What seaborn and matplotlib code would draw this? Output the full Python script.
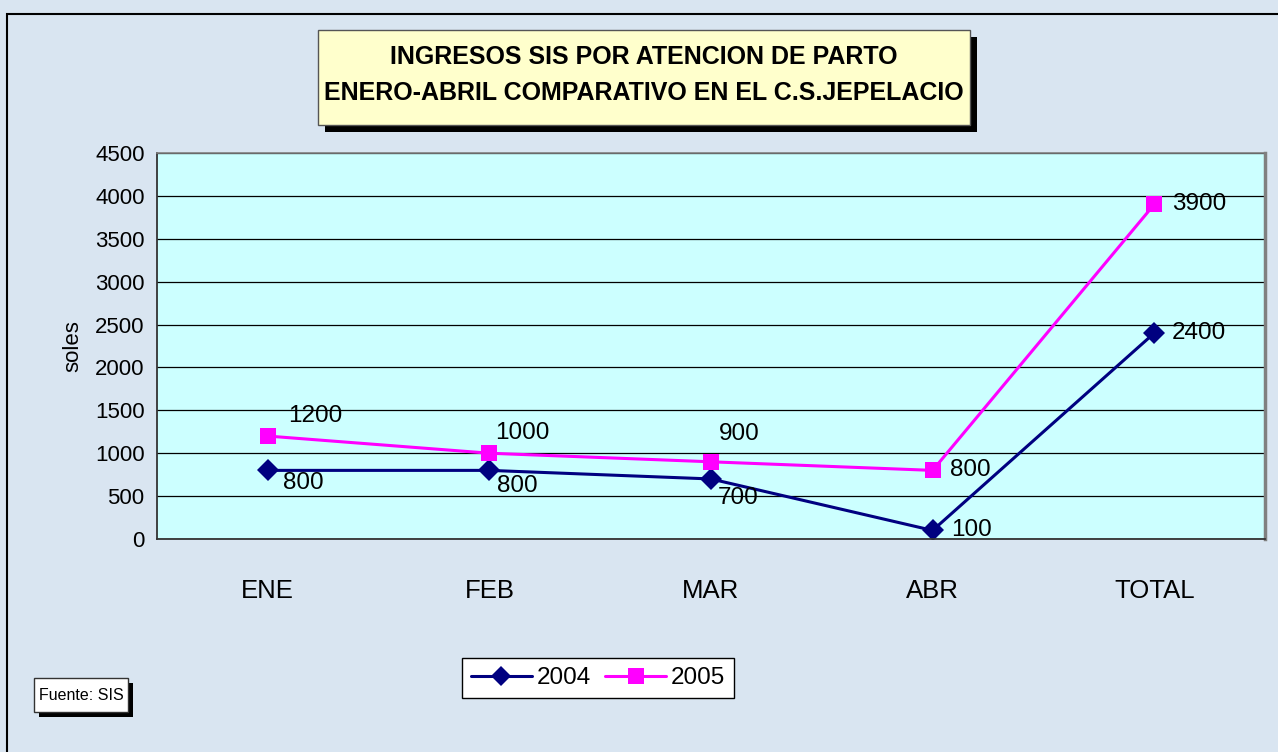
import seaborn as sns
import pandas as pd
import matplotlib.pyplot as plt
from matplotlib.patches import Rectangle
from matplotlib.lines import Line2D

meses = ['ENE', 'FEB', 'MAR', 'ABR', 'TOTAL']
v2004 = [800, 800, 700, 100, 2400]
v2005 = [1200, 1000, 900, 800, 3900]
anios = ['2004', '2005']

# label offsets in pixels (dx, dy)
off2004 = [(15, -13), (8, -16), (7, -19), (19, 0), (18, 0)]
off2005 = [(20, 20), (6, 20), (8, 28), (17, 0), (18, 0)]

df = pd.DataFrame({'mes': meses * 2,
                   'soles': v2004 + v2005,
                   'anio': [anios[0]] * 5 + [anios[1]] * 5})

sns.set_style('white')
plt.rcParams['font.family'] = ['Liberation Sans', 'DejaVu Sans']
plt.rcParams.update({'text.color': 'black', 'axes.labelcolor': 'black',
                     'xtick.color': 'black', 'ytick.color': 'black'})

fig = plt.figure(figsize=(12.78, 7.52), dpi=100)
fig.patch.set_facecolor('#d9e5f1')
W, H = 1278, 752

def fx(x):
    return x / W

def fy(y):
    return 1 - y / H

# outer frame
fig.add_artist(Rectangle((fx(7), fy(800)), fx(1300), 786 / H,
                         transform=fig.transFigure, fill=False, edgecolor='black', lw=1.5))

ax = fig.add_axes([fx(157), fy(539), fx(1265 - 157), (539 - 153) / H])
ax.set_facecolor('#ccffff')

colores = {'2004': '#000080', '2005': '#ff00ff'}
sns.lineplot(data=df, x='mes', y='soles', hue='anio', style='anio',
             palette=colores, markers={'2004': 'D', '2005': 's'}, dashes=False,
             markersize=11, linewidth=2.2, markeredgewidth=0, ax=ax, legend=False, sort=False)

for vals, offs in [(v2004, off2004), (v2005, off2005)]:
    for i, (v, o) in enumerate(zip(vals, offs)):
        ax.annotate(str(v), (i, v), xytext=o, textcoords='offset pixels',
                    ha='left', va='center', fontsize=17.5, color='black')

ax.set_xlim(-0.5, 4.5)
ax.set_ylim(0, 4500)
ax.set_yticks(range(0, 4501, 500))
ax.yaxis.grid(True, color='black', lw=0.9)
ax.set_axisbelow(True)
ax.set_xticks(range(5))
ax.set_xticklabels(meses)
ax.set_xticks([-0.5, 0.5, 1.5, 2.5, 3.5, 4.5], minor=True)
ax.tick_params(axis='x', which='major', length=0, pad=29, labelsize=18.5)
ax.tick_params(axis='x', which='minor', length=8, direction='out', width=1, color='#333333')
ax.tick_params(axis='y', length=6, direction='out', width=1, color='#333333', labelsize=16, pad=3)
ax.set_xlabel('')
ax.set_ylabel('soles', fontsize=16, labelpad=8)
for s in ['left', 'bottom']:
    ax.spines[s].set_color('#333333')
    ax.spines[s].set_linewidth(1.3)
for s in ['right', 'top']:
    ax.spines[s].set_color('#808080')
    ax.spines[s].set_linewidth(2.5)
ax.spines['top'].set_linewidth(1.2)

# title box with shadow
fig.add_artist(Rectangle((fx(325), fy(132)), fx(652), 95 / H, transform=fig.transFigure,
                         facecolor='black', edgecolor='none'))
fig.add_artist(Rectangle((fx(318), fy(125)), fx(652), 95 / H, transform=fig.transFigure,
                         facecolor='#ffffcc', edgecolor='#555555', lw=1))
fig.text(fx(644), fy(57), 'INGRESOS SIS POR ATENCION DE PARTO', ha='center', va='center',
         fontsize=18, fontweight='bold')
fig.text(fx(644), fy(93), 'ENERO-ABRIL COMPARATIVO EN EL C.S.JEPELACIO', ha='center', va='center',
         fontsize=18, fontweight='bold')

# fuente box with shadow
fig.add_artist(Rectangle((fx(39), fy(717)), fx(94), 34 / H, transform=fig.transFigure,
                         facecolor='black', edgecolor='none'))
fig.add_artist(Rectangle((fx(34), fy(712)), fx(94), 34 / H, transform=fig.transFigure,
                         facecolor='white', edgecolor='#333333', lw=1))
fig.text(fx(81), fy(695), 'Fuente: SIS', ha='center', va='center', fontsize=11.5)

# legend
handles = [Line2D([], [], color=colores['2004'], marker='D', markersize=10, lw=2.2, markeredgewidth=0),
           Line2D([], [], color=colores['2005'], marker='s', markersize=11, lw=2.2, markeredgewidth=0)]
leg = fig.legend(handles, anios, loc='center', bbox_to_anchor=(fx(598), fy(678)), ncol=2,
                 frameon=True, fancybox=False, fontsize=17.5, handlelength=2.5, handletextpad=0.2,
                 columnspacing=0.6, borderpad=0.35)
leg.get_frame().set_edgecolor('black')
leg.get_frame().set_linewidth(1)
leg.get_frame().set_facecolor('white')
leg.get_frame().set_alpha(1)

fig.savefig('out.png', dpi=100, facecolor=fig.get_facecolor())
